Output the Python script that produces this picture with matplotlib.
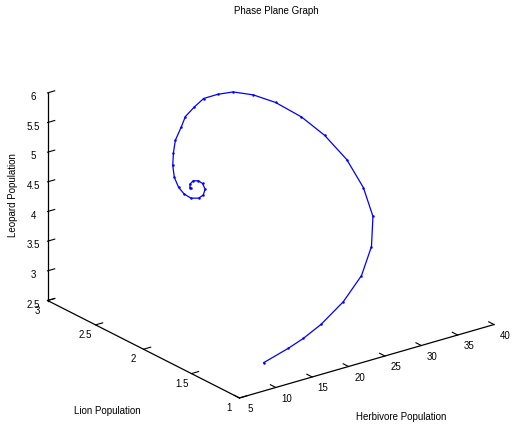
import numpy as np
import matplotlib
matplotlib.use('Agg')
import matplotlib.pyplot as plt
from matplotlib.ticker import FormatStrFormatter
from mpl_toolkits.mplot3d import proj3d

# Trajectory of the three populations
herbivore = [9.64, 13.72, 16.44, 19.91, 24.55, 29.03, 33.04, 35.88, 37.20, 37.16, 35.83, 33.70,
             30.81, 28.14, 25.50, 23.09, 20.65, 18.58, 16.56, 15.22, 13.47, 12.41, 11.39, 10.82,
             10.62, 10.87, 11.39, 12.30, 12.94, 13.34, 13.11, 12.69, 12.10, 11.65, 11.52, 11.60]
lion = [1.10, 1.15, 1.20, 1.28, 1.40, 1.55, 1.75, 1.95, 2.15, 2.32, 2.45, 2.53,
        2.58, 2.61, 2.62, 2.60, 2.56, 2.50, 2.44, 2.38, 2.31, 2.25, 2.18, 2.12,
        2.06, 2.02, 1.99, 1.98, 1.98, 1.99, 2.00, 2.01, 2.02, 2.02, 2.01, 2.01]
leopard = [2.848, 2.907, 2.937, 2.983, 3.102, 3.261, 3.445, 3.689, 3.963, 4.297, 4.646, 4.966,
           5.270, 5.468, 5.603, 5.664, 5.713, 5.693, 5.652, 5.578, 5.470, 5.347, 5.224, 5.093,
           4.979, 4.891, 4.829, 4.805, 4.833, 4.912, 5.007, 5.059, 5.072, 5.032, 4.977, 4.984]

x_ticks = [5, 10, 15, 20, 25, 30, 35, 40]
y_ticks = [1, 1.5, 2, 2.5, 3]
z_ticks = [2.5, 3, 3.5, 4, 4.5, 5, 5.5, 6]
x_lim, y_lim, z_lim = (5, 40), (1, 3), (2.5, 6)

plt.rcParams['font.family'] = ['Liberation Sans', 'DejaVu Sans']
fig = plt.figure(figsize=(5.14, 4.29), dpi=100)
ax = fig.add_axes([0.0312, 0.0, 0.9688, 1.0], projection='3d', proj_type='ortho')
ax.view_init(elev=22.5, azim=-127)
ax.set_box_aspect((1, 1, 0.705), zoom=1.14)
ax.plot(herbivore, lion, leopard, color='blue', lw=0.9, marker='.', ms=1.6)
ax.set_xlim(*x_lim); ax.set_ylim(*y_lim); ax.set_zlim(*z_lim)
ax.set_xticks(x_ticks); ax.set_yticks(y_ticks); ax.set_zticks(z_ticks)
ax.tick_params(axis='x', labelbottom=False)
ax.tick_params(axis='y', labelleft=False)
ax.grid(False)
for a in (ax.xaxis, ax.yaxis, ax.zaxis):
    a.set_pane_color((1, 1, 1, 0))
    a.pane.set_edgecolor((1, 1, 1, 0))
    a.line.set_color('black')
    a.line.set_linewidth(0.9)
    a._axinfo['tick']['inward_factor'] = 0.0
    a._axinfo['tick']['outward_factor'] = 0.35
    a._axinfo['tick']['linewidth'] = {True: 0.8, False: 0.5}
ax.zaxis.set_major_formatter(FormatStrFormatter('%g'))
ax.tick_params(axis='z', labelsize=7, pad=-3)

# MATLAB-style tick label placement: project a point just outside each axis line
fig.canvas.draw()
M = ax.M
for t in x_ticks:
    xp, yp, _ = proj3d.proj_transform(t, y_lim[0] - 0.114, z_lim[0] - 0.096, M)
    ax.text2D(xp, yp, '%g' % t, transform=ax.transData, fontsize=7,
              ha='center', va='center')
for t in y_ticks:
    xp, yp, _ = proj3d.proj_transform(x_lim[0] - 1.37, t, z_lim[0] - 0.12, M)
    ax.text2D(xp, yp, '%g' % t, transform=ax.transData, fontsize=7,
              ha='center', va='center')

fig.text(276 / 514, 1 - 11 / 429, 'Phase Plane Graph', ha='center', va='center', fontsize=7)
fig.text(107 / 514, 1 - 411.5 / 429, 'Lion Population', ha='center', va='center', fontsize=7)
fig.text(401 / 514, 1 - 417 / 429, 'Herbivore Population', ha='center', va='center', fontsize=7)
fig.text(13 / 514, 1 - 195 / 429, 'Leopard Population', ha='center', va='center',
         rotation=90, fontsize=7)
fig.savefig('out.png', dpi=100)
